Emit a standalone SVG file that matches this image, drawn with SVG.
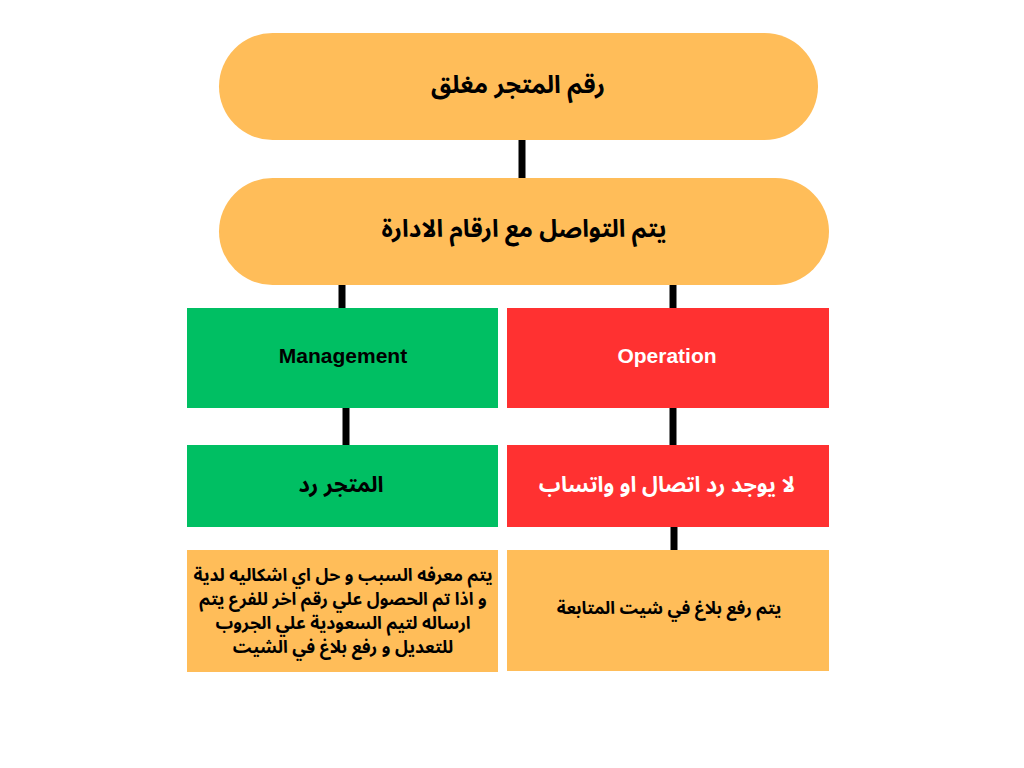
<svg xmlns="http://www.w3.org/2000/svg" width="1024" height="768" viewBox="0 0 1024 768">
<style>
.ar{font-family:"Noto Sans Arabic","Noto Sans","DejaVu Sans",sans-serif;font-weight:bold;text-anchor:middle;direction:rtl}
.en{font-family:"Liberation Sans",Arial,sans-serif;font-weight:bold;text-anchor:middle;font-size:21px}
.c{stroke:#000;stroke-width:7;fill:none}
.y{fill:#FFBD59}.g{fill:#00BF63}.r{fill:#FF3131}
</style>
<rect width="1024" height="768" fill="#fff"/>
<g id="connectors">
<line class="c" x1="522" y1="140" x2="522" y2="178"/>
<line class="c" x1="342" y1="285" x2="342" y2="308"/>
<line class="c" x1="673" y1="285" x2="673" y2="308"/>
<line class="c" x1="346" y1="408" x2="346" y2="445"/>
<line class="c" x1="673" y1="408" x2="673" y2="445"/>
<line class="c" x1="674" y1="527" x2="674" y2="550"/>
</g>
<g id="n1"><rect class="y" x="219" y="33" width="599" height="107" rx="53.5"/>
<text class="ar" x="518" y="93" font-size="24.5">رقم المتجر مغلق</text></g>
<g id="n2"><rect class="y" x="219" y="178" width="610" height="107" rx="53.5"/>
<text class="ar" x="524" y="237" font-size="24.3">يتم التواصل مع ارقام الادارة</text></g>
<g id="n3"><rect class="g" x="187" y="308" width="311" height="100"/>
<text class="en" x="343" y="363" fill="#000">Management</text></g>
<g id="n4"><rect class="r" x="507" y="308" width="322" height="100"/>
<text class="en" x="667" y="363" fill="#fff">Operation</text></g>
<g id="n5"><rect class="g" x="187" y="445" width="311" height="82"/>
<text class="ar" x="341" y="492" font-size="22">المتجر رد</text></g>
<g id="n6"><rect class="r" x="507" y="445" width="322" height="82"/>
<text class="ar" x="667" y="492" font-size="21.6" fill="#fff">لا يوجد رد اتصال او واتساب</text></g>
<g id="n7"><rect class="y" x="187" y="550" width="311" height="122"/>
<text class="ar" font-size="17.5"><tspan x="343" y="581">يتم معرفه السبب و حل اي اشكاليه لدية</tspan><tspan x="343" y="605">و اذا تم الحصول علي رقم اخر للفرع يتم</tspan><tspan x="343" y="629">ارساله لتيم السعودية علي الجروب</tspan><tspan x="343" y="653">للتعديل و رفع بلاغ في الشيت</tspan></text></g>
<g id="n8"><rect class="y" x="507" y="550" width="322" height="121"/>
<text class="ar" x="669" y="614" font-size="17.4">يتم رفع بلاغ في شيت المتابعة</text></g>
</svg>
